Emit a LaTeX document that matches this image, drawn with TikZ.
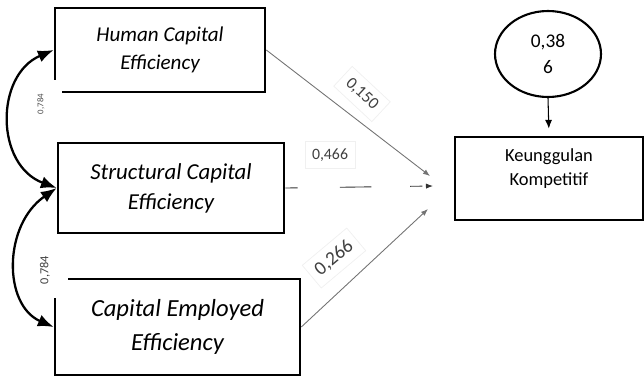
\documentclass[tikz,border=0pt]{standalone}
\usepackage{fontspec}
\setmainfont{Carlito}
\usetikzlibrary{arrows.meta,positioning,shapes.geometric}

\begin{document}
\begin{tikzpicture}[
  >=Latex, x=0.02cm, y=-0.02cm,
  varbox/.style={rectangle,draw,line width=1.5pt,align=center},
  coef/.style={fill=white,draw=black!6,text=black!75,inner sep=4pt},
  corr/.style={<->,line width=1.3pt,>={Latex[length=9pt,width=7pt]}},
  effect/.style={->,draw=black!55,line width=0.5pt,>={Latex[length=4pt,width=3pt]}}]
\useasboundingbox (0,0) rectangle (644,379);
% exogenous constructs
\node[varbox,minimum width=4.2cm,minimum height=1.68cm,
  font=\itshape\fontsize{12}{16}\selectfont] (hce) at (160,50) {Human Capital\\Efficiency};
\node[varbox,minimum width=4.52cm,minimum height=1.8cm,
  font=\itshape\fontsize{13}{17}\selectfont] (sce) at (171,188) {Structural Capital\\Efficiency};
\node[varbox,minimum width=4.9cm,minimum height=1.92cm,
  font=\itshape\fontsize{14}{19}\selectfont] (cee) at (177.5,327) {Capital Employed\\Efficiency};
% endogenous construct and its error
\node[varbox,minimum width=3.76cm,minimum height=1.66cm,
  font=\fontsize{10.5}{14}\selectfont] (kom) at (549,178.5) {Keunggulan\\Kompetitif\\[-5pt]\strut};
\node[ellipse,draw,line width=1.2pt,minimum width=2.12cm,minimum height=1.72cm,
  align=center,font=\fontsize{11}{15}\selectfont] (err) at (548,54) {0,38\\6};
\draw[->,>={Latex[length=5pt,width=4pt]},line width=0.6pt,shorten >=4pt] (err.south)--(kom.north);
% path ends
\coordinate (in1) at (430,176);
\coordinate (in2) at (433,186);
\coordinate (in3) at (428,209);
\draw[effect] (hce.east)--(in1);
\draw[effect,draw=black!80,dash pattern=on 7pt off 24pt on 18pt off 22pt] (sce.east)--(in2);
\draw[effect] (cee.east)--(in3);
% correlations
\draw[corr] (hce.west) .. controls (-5,75) and (-5,165) .. (sce.west);
\draw[corr] (sce.west) .. controls (3,225) and (3,305) .. (cee.west);
\node[fill=white,minimum width=0.84cm,minimum height=0.96cm,
  font=\fontsize{5}{6}\selectfont,text=black!70] (r1) at (41,104) {\rotatebox{90}{0,784}};
\node[fill=white,minimum width=0.92cm,minimum height=1.12cm,
  font=\fontsize{7}{8}\selectfont,text=black!75] (r2) at (45,270) {\rotatebox{90}{0,784}};
% coefficients
\node[coef,rotate=-43,font=\fontsize{9.5}{11}\selectfont] (c1) at (362,94) {0,150};
\node[coef,font=\fontsize{9}{11}\selectfont] (c2) at (330,155) {0,466};
\node[coef,rotate=40,font=\fontsize{11}{13}\selectfont] (c3) at (334,258) {0,266};
\end{tikzpicture}
\end{document}
